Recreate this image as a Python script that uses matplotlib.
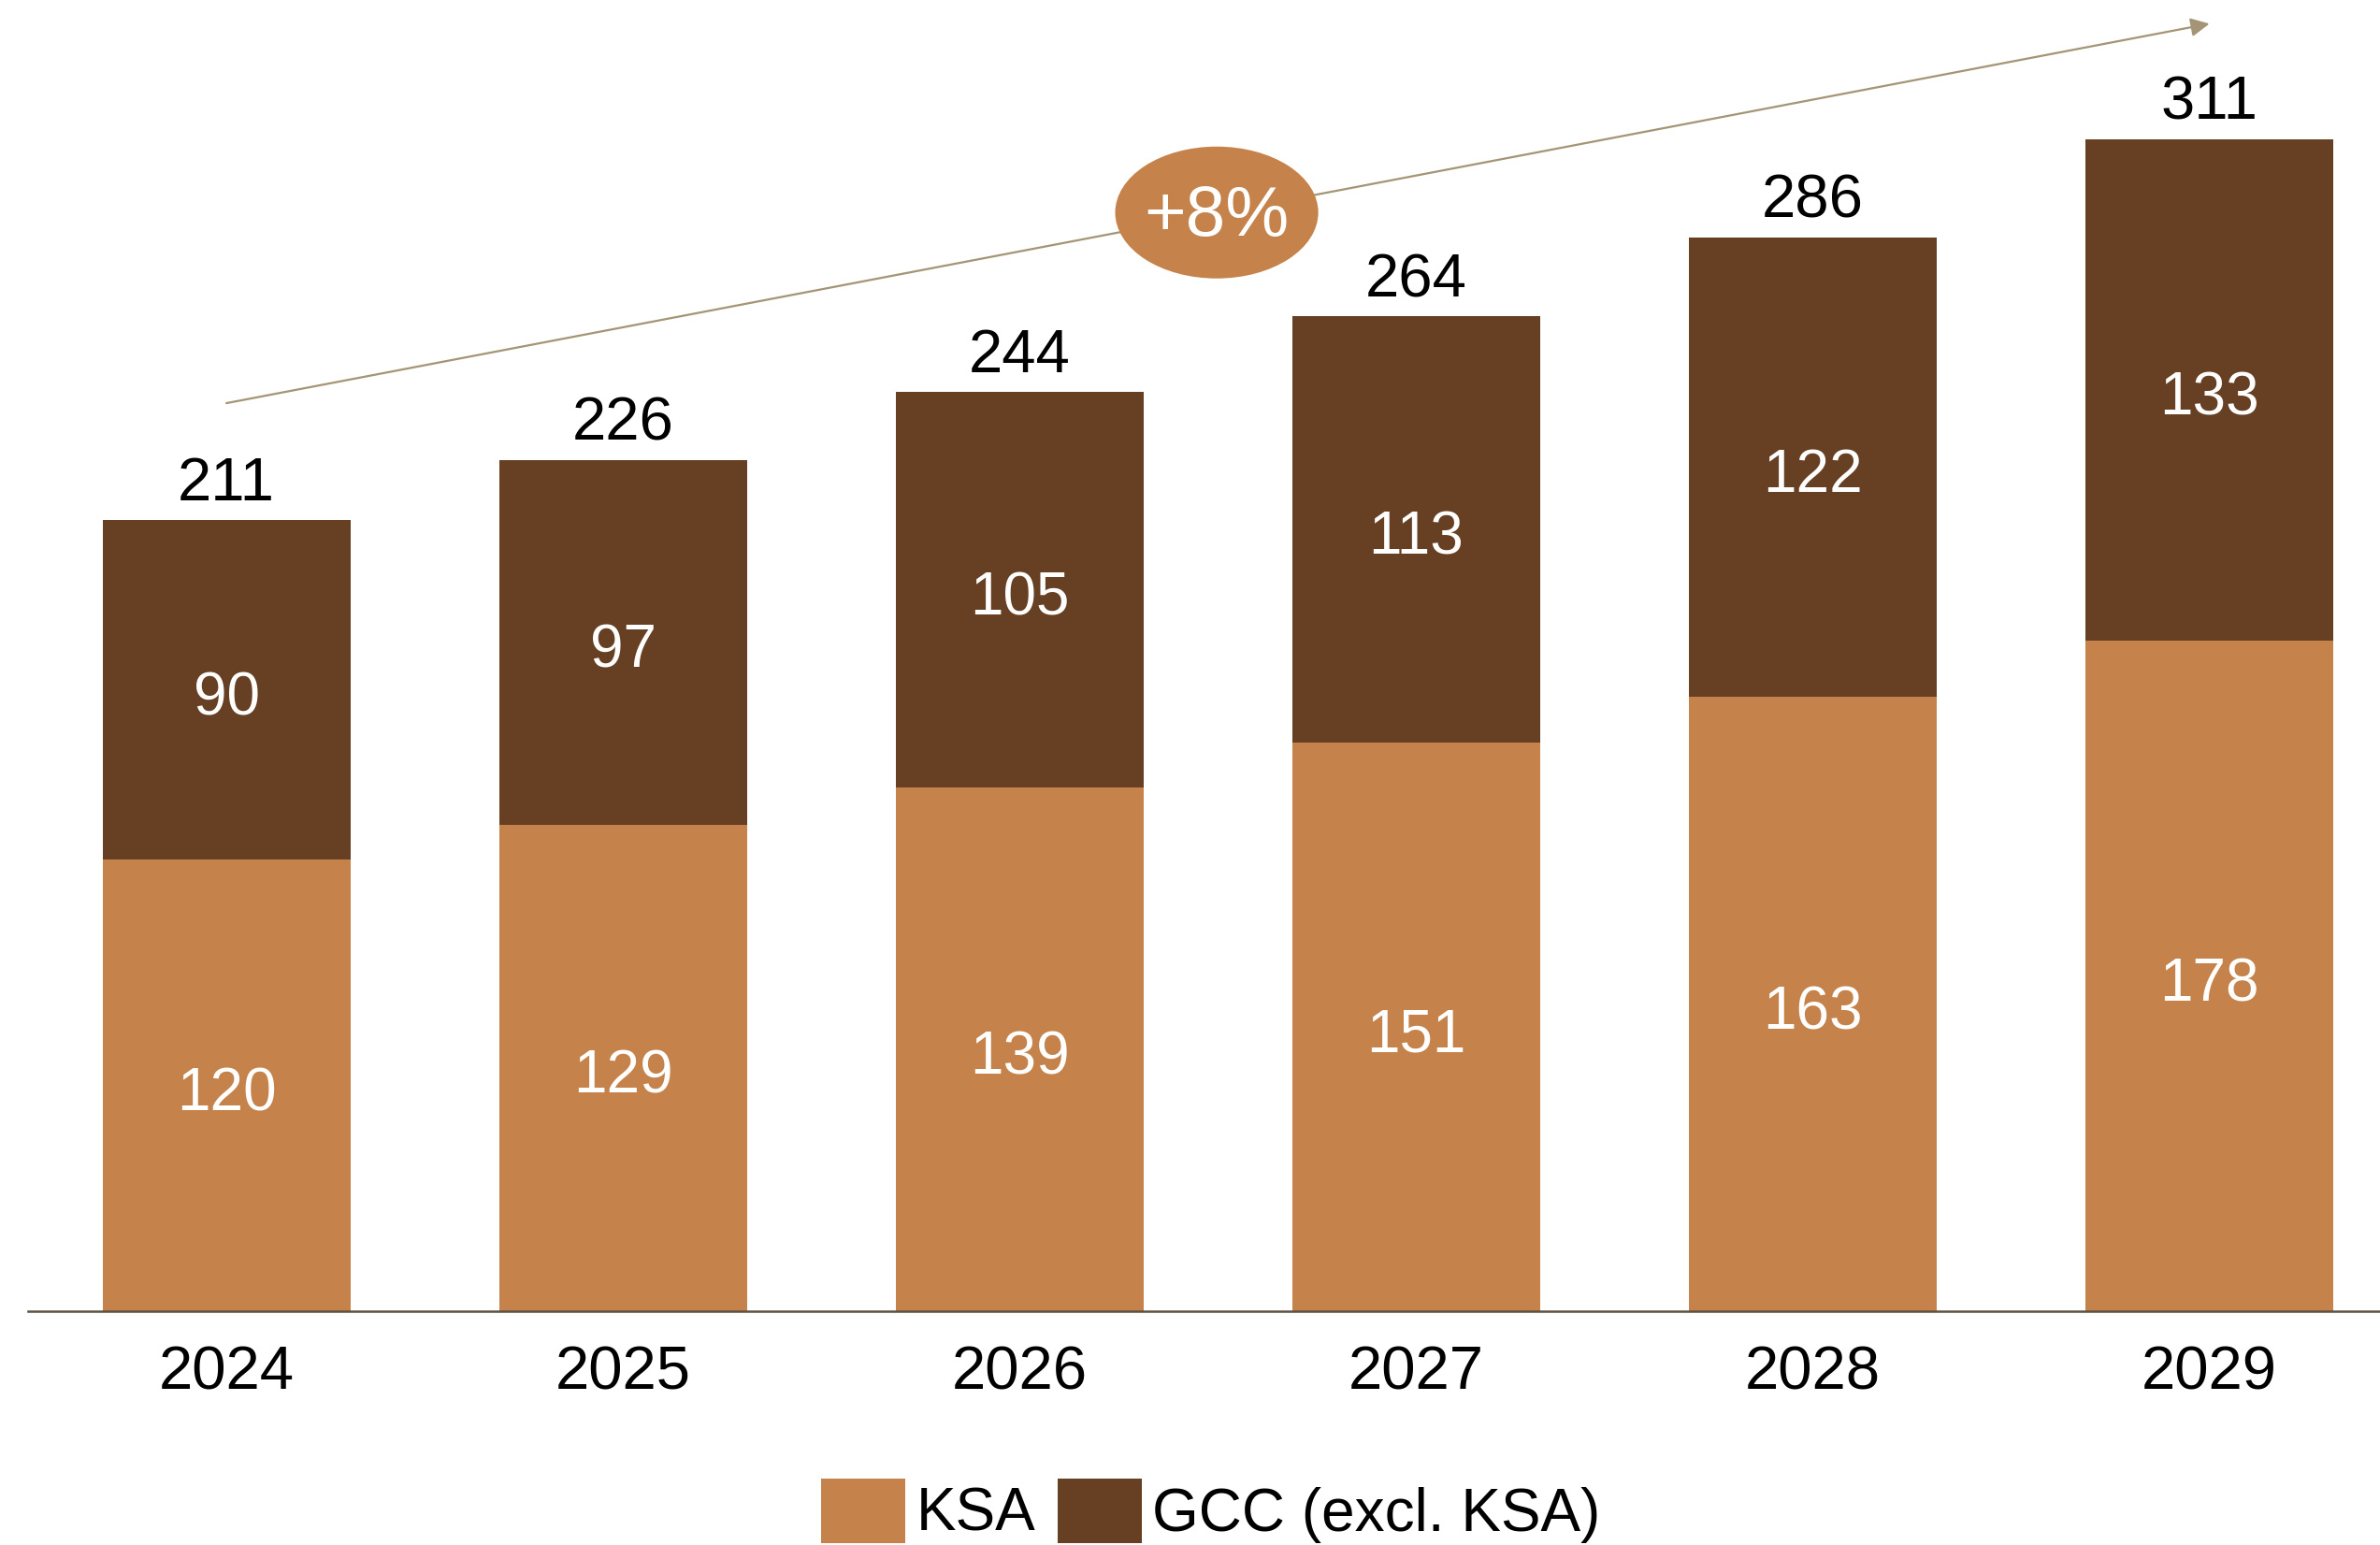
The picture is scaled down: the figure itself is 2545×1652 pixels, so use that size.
import numpy as np
import matplotlib.pyplot as plt
from matplotlib.patches import Ellipse

plt.rcParams['font.family'] = ['Liberation Sans', 'DejaVu Sans']

# data
years = ['2024', '2025', '2026', '2027', '2028', '2029']
ksa = [120, 129, 139, 151, 163, 178]
gcc = [90, 97, 105, 113, 122, 133]
totals = [211, 226, 244, 264, 286, 311]
cagr_label = '+8%'

c_ksa = '#C5834B'
c_gcc = '#674023'
c_arrow = '#A39575'

fig = plt.figure(figsize=(25.45, 16.52), dpi=100)
ax = fig.add_axes([30/2545, 0.1513, 1 - 30/2545, 1 - 0.1513])

x = np.arange(len(years))
w = 0.625
b1 = ax.bar(x, ksa, w, color=c_ksa, label='KSA', zorder=2)
b2 = ax.bar(x, gcc, w, bottom=ksa, color=c_gcc, label='GCC (excl. KSA)', zorder=2)

# labels inside bars + totals on top
for i in range(len(years)):
    ax.annotate(str(ksa[i]), (x[i], ksa[i] / 2), xytext=(0, -7),
                textcoords='offset points', ha='center', va='center',
                color='white', fontsize=46, zorder=3)
    ax.annotate(str(gcc[i]), (x[i], ksa[i] + gcc[i] / 2), xytext=(0, -7),
                textcoords='offset points', ha='center', va='center',
                color='white', fontsize=46, zorder=3)
    ax.annotate(str(totals[i]), (x[i], ksa[i] + gcc[i]), xytext=(0, 6),
                textcoords='offset points', ha='center', va='bottom',
                fontsize=47, color='black')

# growth arrow
ax.annotate('', xy=(x[-1], 341.7), xytext=(x[0], 241),
            arrowprops=dict(arrowstyle='-|>', color=c_arrow, lw=1.6,
                            mutation_scale=30, shrinkA=0, shrinkB=0),
            annotation_clip=False, zorder=1)
ell = Ellipse((2.497, 291.6), 0.512, 35, facecolor=c_ksa, edgecolor='none', zorder=4)
ax.add_patch(ell)
ax.annotate(cagr_label, (2.497, 291.6), xytext=(0, -4), textcoords='offset points',
            ha='center', va='center', color='white', fontsize=55, zorder=5)

ax.set_xlim(-0.5, 5.43)
ax.set_ylim(0, 348)
ax.set_xticks(x)
ax.set_xticklabels(years, fontsize=47)
ax.tick_params(axis='x', length=0, pad=26)
ax.set_yticks([])
for s in ['top', 'right', 'left']:
    ax.spines[s].set_visible(False)
ax.spines['bottom'].set_color('#5E5040')
ax.spines['bottom'].set_linewidth(1.8)
ax.spines['bottom'].set_zorder(3)

fig.legend(handles=[b1, b2], loc='lower center', bbox_to_anchor=(1295/2545, -0.014),
           ncol=2, frameon=False, fontsize=46, handlelength=1.41, handleheight=1.28,
           handletextpad=0.18, columnspacing=0.36, borderaxespad=0)

fig.savefig('out.png', dpi=100)
